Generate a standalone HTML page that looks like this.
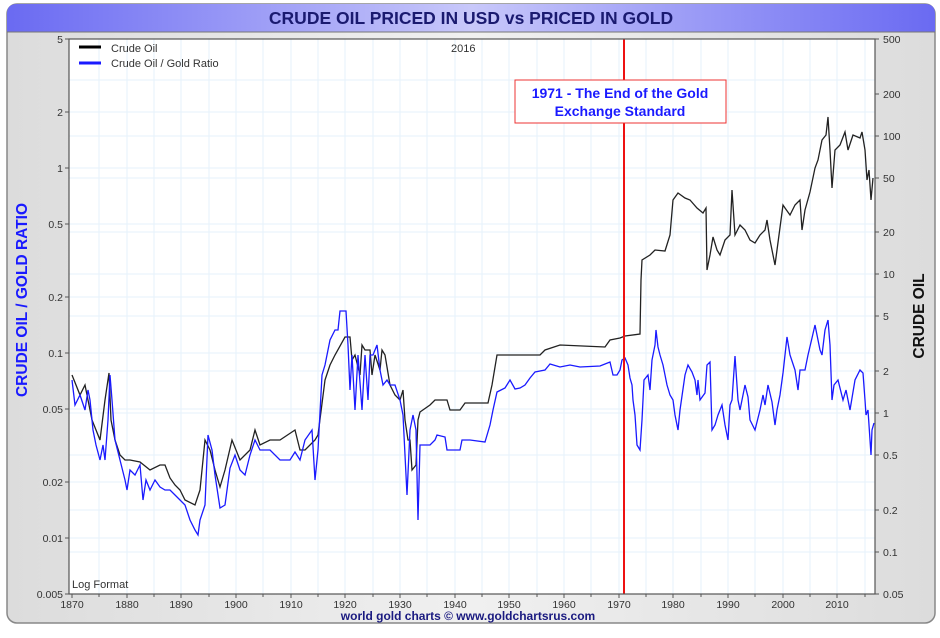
<!DOCTYPE html><html><head><style>
body{margin:0;background:#fff;width:940px;height:633px;overflow:hidden;font-family:"Liberation Sans",sans-serif}
</style></head><body>
<svg width="940" height="633" xmlns="http://www.w3.org/2000/svg" font-family="Liberation Sans, sans-serif">
<defs><linearGradient id="tg" x1="0" x2="1"><stop offset="0" stop-color="#6a6af2"/><stop offset="0.5" stop-color="#c8c8fa"/><stop offset="1" stop-color="#6a6af2"/></linearGradient>
<linearGradient id="pg" x1="0" x2="1"><stop offset="0" stop-color="#dcdcdc"/><stop offset="0.5" stop-color="#f0f0f0"/><stop offset="1" stop-color="#dcdcdc"/></linearGradient></defs>
<rect x="7" y="4" width="928" height="619" rx="10" fill="url(#pg)" stroke="#888" stroke-width="1.5"/>
<path d="M7 32 V14 Q7 4 17 4 H925 Q935 4 935 14 V32 Z" fill="url(#tg)"/>
<line x1="7" y1="32" x2="935" y2="32" stroke="#777"/>
<text x="471" y="24" text-anchor="middle" font-size="17.5" font-weight="bold" fill="#1a1a70">CRUDE OIL PRICED IN USD vs PRICED IN GOLD</text>
<rect x="69" y="39" width="806" height="555" fill="#fff"/>
<g stroke="#e6f2fb" stroke-width="1">
<path d="M99 39V594M127 39V594M154 39V594M181 39V594M209 39V594M236 39V594M263 39V594M291 39V594M318 39V594M345 39V594M373 39V594M400 39V594M427 39V594M455 39V594M482 39V594M509 39V594M537 39V594M564 39V594M591 39V594M619 39V594M646 39V594M673 39V594M701 39V594M728 39V594M755 39V594M783 39V594M810 39V594M837 39V594M865 39V594"/>
<path d="M69 112H875M69 168H875M69 224H875M69 297H875M69 353H875M69 409H875M69 482H875M69 538H875M69 136H875M69 178H875M69 232H875M69 274H875M69 316H875M69 371H875M69 413H875M69 455H875M69 510H875M69 552H875M69 80H875"/>
</g>
<polyline fill="none" stroke="#222" stroke-width="1.3" points="72,375 76,385 80,395 85,385 88,400 92,420 96,430 100,440 105,400 109,373 111,420 115,440 120,455 125,460 130,460 140,462 150,470 160,465 165,465 170,478 175,485 180,490 185,500 195,505 200,490 205,440 210,450 215,470 220,487 225,470 232,440 240,460 250,450 255,430 260,445 270,440 280,440 295,430 300,450 305,450 315,440 318,435 325,380 330,365 335,355 345,337 350,337 352,360 355,355 360,375 362,345 365,350 370,350 372,375 375,355 380,370 382,350 385,355 390,385 395,395 400,400 403,390 405,420 408,440 410,440 412,470 416,465 418,420 420,412 430,405 435,400 447,400 450,410 460,410 465,403 488,403 492,385 497,355 540,355 545,350 560,345 605,347 610,340 620,338 625,336 640,334 641,280 642,260 650,255 655,250 665,251 670,235 673,200 678,193 685,198 690,200 697,208 703,213 706,208 707,270 710,255 713,237 717,250 720,255 725,240 730,235 732,190 735,235 740,225 745,230 750,240 755,243 760,235 765,230 767,220 770,240 775,265 777,250 783,205 785,208 790,215 795,205 800,200 802,230 805,210 810,192 815,168 818,160 822,140 826,135 828,117 830,150 832,188 835,150 840,145 845,132 848,150 853,135 860,138 862,132 865,150 867,180 869,170 871,200 873,178"/>
<polyline fill="none" stroke="#1a1aff" stroke-width="1.3" points="72,380 75,405 80,395 85,410 88,390 90,400 93,430 96,445 100,460 103,445 105,460 108,420 110,375 112,400 115,440 120,460 125,480 127,490 130,470 135,475 140,465 143,500 146,480 150,490 155,480 160,487 165,490 170,490 175,495 180,500 185,505 190,520 195,530 198,535 200,520 205,505 208,435 212,450 215,475 220,508 225,505 230,468 235,455 240,470 245,475 250,455 255,440 260,450 270,450 280,460 290,460 295,452 300,460 305,440 312,430 315,480 318,450 322,375 325,365 330,340 335,330 338,330 340,311 346,311 348,345 350,390 352,355 355,410 358,355 362,410 365,355 368,400 370,355 373,355 377,345 380,370 383,385 387,380 390,385 395,385 400,400 403,415 407,495 410,430 413,415 416,430 418,520 420,445 430,445 435,440 437,435 445,437 447,450 460,450 462,440 470,440 485,442 490,425 493,410 497,392 505,388 510,380 515,389 520,388 525,385 530,378 535,372 545,370 550,364 560,367 570,365 580,367 600,366 610,362 613,375 617,375 620,370 622,360 625,358 628,365 630,378 632,385 633,400 635,415 637,445 640,450 642,420 644,380 648,375 650,390 652,360 655,345 656,330 658,347 660,355 663,365 667,385 670,395 673,400 675,415 678,430 680,410 685,375 688,365 692,372 695,380 697,395 698,380 700,400 705,393 707,365 710,362 712,430 715,425 718,415 722,405 725,425 728,440 730,405 732,400 735,356 738,400 740,410 745,385 748,397 750,420 755,430 760,410 763,395 765,405 768,385 772,402 775,425 777,410 780,395 783,373 787,337 790,355 795,370 798,390 800,370 805,370 808,355 812,338 815,325 818,340 820,350 822,355 825,330 828,320 830,345 832,400 834,385 838,380 843,400 846,390 850,410 855,380 860,370 863,373 865,400 866,415 868,410 870,440 871,455 872,430 874,423"/>
<line x1="624" y1="39" x2="624" y2="594" stroke="#ee1111" stroke-width="2"/>
<rect x="515" y="80" width="211" height="43" fill="#fff" stroke="#e33" stroke-width="1"/>
<text x="620" y="98" text-anchor="middle" font-size="14" font-weight="bold" fill="#1a1aff">1971 - The End of the Gold</text>
<text x="620" y="116" text-anchor="middle" font-size="14" font-weight="bold" fill="#1a1aff">Exchange Standard</text>
<rect x="69" y="39" width="806" height="555" fill="none" stroke="#555" stroke-width="1.2"/>
<line x1="79" y1="47" x2="101" y2="47" stroke="#000" stroke-width="3"/>
<line x1="79" y1="63" x2="101" y2="63" stroke="#1a1aff" stroke-width="3"/>
<text x="111" y="52" font-size="11" fill="#333">Crude Oil</text>
<text x="111" y="67" font-size="11" fill="#333">Crude Oil / Gold Ratio</text>
<text x="451" y="52" font-size="11" fill="#333">2016</text>
<text x="72" y="588" font-size="11" fill="#333">Log Format</text>
<g font-size="10.5" fill="#333" text-anchor="end">
<text x="63" y="43">5</text><text x="63" y="116">2</text><text x="63" y="172">1</text><text x="63" y="228">0.5</text><text x="63" y="301">0.2</text><text x="63" y="357">0.1</text><text x="63" y="413">0.05</text><text x="63" y="486">0.02</text><text x="63" y="542">0.01</text><text x="63" y="598">0.005</text>
</g>
<g stroke="#555"><path d="M65 39H69M65 112H69M65 168H69M65 224H69M65 297H69M65 353H69M65 409H69M65 482H69M65 538H69M65 594H69"/>
<path d="M875 39H879M875 94H879M875 136H879M875 178H879M875 232H879M875 274H879M875 316H879M875 371H879M875 413H879M875 455H879M875 510H879M875 552H879M875 594H879"/>
<path d="M72 594V598M99 594V597M127 594V598M154 594V597M181 594V598M209 594V597M236 594V598M263 594V597M291 594V598M318 594V597M345 594V598M373 594V597M400 594V598M427 594V597M455 594V598M482 594V597M509 594V598M537 594V597M564 594V598M591 594V597M619 594V598M646 594V597M673 594V598M701 594V597M728 594V598M755 594V597M783 594V598M810 594V597M837 594V598M865 594V597"/></g>
<g font-size="10.5" fill="#333">
<text x="883" y="43">500</text><text x="883" y="98">200</text><text x="883" y="140">100</text><text x="883" y="182">50</text><text x="883" y="236">20</text><text x="883" y="278">10</text><text x="883" y="320">5</text><text x="883" y="375">2</text><text x="883" y="417">1</text><text x="883" y="459">0.5</text><text x="883" y="514">0.2</text><text x="883" y="556">0.1</text><text x="883" y="598">0.05</text>
</g>
<g font-size="10.5" fill="#333" text-anchor="middle">
<text x="72" y="608">1870</text><text x="127" y="608">1880</text><text x="181" y="608">1890</text><text x="236" y="608">1900</text><text x="291" y="608">1910</text><text x="345" y="608">1920</text><text x="400" y="608">1930</text><text x="455" y="608">1940</text><text x="509" y="608">1950</text><text x="564" y="608">1960</text><text x="619" y="608">1970</text><text x="673" y="608">1980</text><text x="728" y="608">1990</text><text x="783" y="608">2000</text><text x="837" y="608">2010</text>
</g>
<text transform="translate(27,300) rotate(-90)" text-anchor="middle" font-size="15.5" font-weight="bold" fill="#1a1aff">CRUDE OIL / GOLD RATIO</text>
<text transform="translate(924,316) rotate(-90)" text-anchor="middle" font-size="15.5" font-weight="bold" fill="#111">CRUDE OIL</text>
<text x="468" y="620" text-anchor="middle" font-size="12" font-weight="bold" fill="#1a1a80">world gold charts © www.goldchartsrus.com</text>
</svg>
</body></html>
